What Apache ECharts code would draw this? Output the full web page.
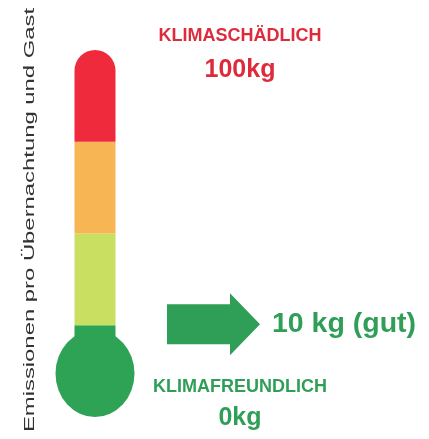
<!DOCTYPE html>
<html>
<head>
<meta charset="utf-8">
<script src="https://cdn.jsdelivr.net/npm/echarts@6/dist/echarts.min.js"></script>
<style>
  html, body { margin: 0; padding: 0; background: #fff; }
  #chart-container { width: 429px; height: 439px; }
</style>
</head>
<body>
<div id="chart-container"></div>
<script>
// thermometer levels (0 = bottom of bulb, 4 = top of tube)
var bandFrom = [0, 1, 2, 3];
var bandTo = [1, 2, 3, 4];
var bandNames = ["gut", "mittel", "hoch", "sehr hoch"];

var endLevels = [4, 0];
var endTitles = ["KLIMASCHÄDLICH", "KLIMAFREUNDLICH"];
var endValues = ["100kg", "0kg"];

var markerLevel = [1];
var markerLabel = ["10 kg (gut)"];

var axisTitle = "Emissionen pro Übernachtung und Gast";

var bandColors = ["#2ea356", "#c9df62", "#f8b553", "#ef2a3d"];
var red = "#de2b3c";
var green = "#2f9e57";
var tubeX = 95;

var dom = document.getElementById("chart-container");
var myChart = echarts.init(dom, null, { renderer: "canvas" });

var option = {
  animation: false,
  backgroundColor: "#fff",
  grid: { left: 0, right: 0, top: 50, bottom: 22 },
  xAxis: { type: "value", min: 0, max: 429, show: false },
  yAxis: { type: "value", min: 0, max: 4, show: false },
  graphic: [
    {
      type: "text",
      x: 30,
      y: 220,
      rotation: Math.PI / 2,
      scaleX: 1.59,
      style: {
        text: axisTitle,
        fontFamily: "Liberation Sans",
        fontSize: 15,
        fill: "#333",
        align: "center",
        verticalAlign: "middle"
      }
    }
  ],
  series: [
    {
      name: "Skala",
      type: "custom",
      data: bandFrom.map(function (f, i) {
        return [f, bandTo[i], i];
      }),
      renderItem: function (params, api) {
        var i = api.value(2);
        var p0 = api.coord([tubeX, api.value(0)]);
        var p1 = api.coord([tubeX, api.value(1)]);
        // bulb sits at the bottom of the lowest band
        var bulbY = p0[1] - 43.5;
        var bottom = i === 0 ? bulbY : p0[1];
        var children = [
          {
            type: "rect",
            shape: {
              x: p0[0] - 20.5,
              y: p1[1],
              width: 41,
              height: bottom - p1[1],
              r: i === 3 ? [20.5, 20.5, 0, 0] : 0
            },
            style: { fill: bandColors[i] }
          }
        ];
        if (i === 0) {
          children.push({
            type: "circle",
            x: p0[0],
            y: bulbY,
            scaleY: 43.5 / 39.5,
            shape: { cx: 0, cy: 0, r: 39.5 },
            style: { fill: bandColors[0] }
          });
        }
        return { type: "group", children: children };
      }
    },
    {
      name: "Wert",
      type: "custom",
      data: markerLevel.map(function (v, i) {
        return [v, i];
      }),
      renderItem: function (params, api) {
        var p = api.coord([0, api.value(0)]);
        var y = p[1] - 1;
        return {
          type: "group",
          children: [
            {
              type: "polygon",
              shape: {
                points: [
                  [167, y - 20], [230, y - 20], [230, y - 31], [260, y],
                  [230, y + 31], [230, y + 20], [167, y + 20]
                ]
              },
              style: { fill: green }
            },
            {
              type: "text",
              x: 272,
              y: y,
              style: {
                text: markerLabel[api.value(1)],
                fontFamily: "Liberation Sans",
                fontWeight: "bold",
                fontSize: 28.5,
                fill: green,
                align: "left",
                verticalAlign: "middle"
              }
            }
          ]
        };
      }
    },
    {
      name: "Grenzen",
      type: "custom",
      data: endLevels.map(function (v, i) {
        return [v, i];
      }),
      renderItem: function (params, api) {
        var i = api.value(1);
        var p = api.coord([240, api.value(0)]);
        var top = i === 0;
        var col = top ? red : green;
        return {
          type: "group",
          children: [
            {
              type: "text",
              x: p[0],
              y: p[1] + (top ? -14 : -30),
              style: {
                text: endTitles[i],
                fontFamily: "Liberation Sans",
                fontWeight: "bold",
                fontSize: 18,
                fill: col,
                align: "center",
                verticalAlign: "middle"
              }
            },
            {
              type: "text",
              x: p[0],
              y: p[1] + (top ? 20 : 1.5),
              style: {
                text: endValues[i],
                fontFamily: "Liberation Sans",
                fontWeight: "bold",
                fontSize: 25,
                fill: col,
                align: "center",
                verticalAlign: "middle"
              }
            }
          ]
        };
      }
    }
  ]
};

myChart.setOption(option);
window.addEventListener("resize", myChart.resize);
</script>
</body>
</html>
